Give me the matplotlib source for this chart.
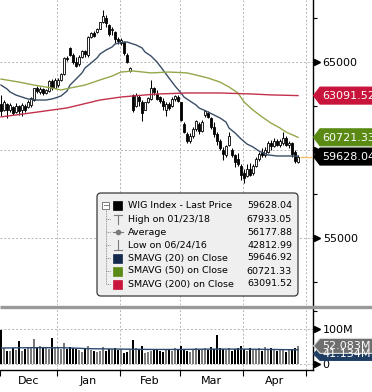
import matplotlib
matplotlib.use("Agg")
import matplotlib.pyplot as plt
import numpy as np
from matplotlib.patches import FancyBboxPatch, Polygon, Rectangle
from matplotlib.transforms import blended_transform_factory, offset_copy

# daily candles (trading days, Dec 2017 - Apr 2018)
opens = [62600, 62250, 62600, 62300, 62450, 62150, 62500, 62250, 62500, 62450,
         62550, 62850, 63550, 63300, 63450, 63250, 63350, 63900, 63550, 63700,
         64000, 64300, 65250, 65800, 65400, 65000, 64900, 65300, 65600, 65400,
         66400, 66650, 66700, 66900, 67250, 67500, 67100, 66800, 66700, 66300,
         66100, 66150, 65400, 64500, 63100, 62500, 63000, 62700, 62300, 62700,
         62900, 63500, 63200, 63000, 62800, 62300, 62600, 62500, 62900, 63000,
         62700, 61500, 60900, 60500, 60800, 61200, 61500, 61100, 62000, 62100,
         61800, 61300, 60900, 60500, 60000, 59700, 60300, 60000, 59700, 59500,
         59100, 58700, 58500, 58900, 58700, 59100, 59500, 59900, 59700, 59900,
         60400, 60200, 60500, 60300, 60400, 60700, 60300, 60400, 59900, 59300]
highs = [63100, 62850, 62650, 62670, 62500, 62670, 62550, 62650, 62600, 62850,
         63010, 63550, 63640, 63580, 63500, 63450, 63980, 64030, 64090, 64090,
         64350, 65300, 65350, 65850, 65500, 65300, 65400, 65700, 65700, 66450,
         66700, 66750, 66950, 67300, 67933, 67650, 67150, 67000, 66750, 66400,
         66350, 66200, 65500, 64700, 63200, 63240, 63100, 62850, 62750, 63000,
         63980, 63600, 63400, 63050, 62950, 62700, 62700, 63000, 63120, 63100,
         62700, 61600, 61000, 60950, 61300, 61700, 61600, 61700, 62270, 62200,
         61900, 61600, 61000, 60600, 60170, 60300, 61000, 60100, 59800, 59830,
         59200, 58900, 59200, 59260, 59200, 59600, 59900, 60100, 60170, 60500,
         60570, 60680, 60600, 60650, 61020, 60800, 60500, 60450, 60000, 59720]
lows = [61950, 62200, 61820, 62150, 61990, 62100, 62000, 61950, 62150, 62400,
        62450, 62800, 63250, 63180, 63150, 63180, 63300, 63400, 63500, 63600,
        63900, 64250, 65050, 65350, 64900, 64700, 64800, 65250, 65300, 65300,
        66350, 66400, 66650, 66850, 67200, 67000, 66500, 66550, 66100, 66000,
        65950, 65400, 64950, 64430, 62150, 62440, 62500, 61650, 62250, 62650,
        62850, 63100, 62840, 62670, 62270, 61930, 62250, 62450, 62800, 62700,
        61650, 60970, 60400, 60400, 60700, 61100, 60900, 61000, 61900, 61800,
        61200, 60740, 60300, 60000, 59430, 59600, 60200, 59600, 59030, 59100,
        58300, 58130, 58470, 58500, 58600, 59030, 59400, 59600, 59600, 59830,
        60000, 60150, 60200, 60170, 60300, 60200, 60100, 59600, 59260, 59260]
closes = [62200, 62700, 62300, 62550, 62100, 62500, 62200, 62550, 62300, 62750,
          62950, 63500, 63350, 63450, 63250, 63400, 63900, 63500, 63950, 64000,
          64300, 65250, 65150, 65400, 65000, 64800, 65300, 65600, 65450, 66400,
          66650, 66500, 66900, 67250, 67600, 67200, 66600, 66900, 66300, 66200,
          66250, 65500, 65000, 64650, 62300, 63100, 62800, 62100, 62700, 62950,
          63500, 63300, 62900, 62800, 62500, 62600, 62400, 62900, 63050, 62800,
          61700, 61000, 60500, 60800, 61200, 61650, 61100, 61600, 62200, 61900,
          61300, 60900, 60500, 60100, 59800, 60200, 60800, 59700, 59300, 59200,
          58600, 58400, 58900, 58600, 59100, 59500, 59800, 59700, 60000, 60400,
          60200, 60500, 60300, 60500, 60700, 60300, 60400, 59800, 59400, 59628.04]
volumes = [98, 46, 39, 37, 46, 41, 66, 37, 43, 45, 47, 71, 48, 51, 50, 48, 43, 74, 48, 46,
           43, 60, 43, 49, 45, 43, 41, 34, 45, 53, 41, 38, 36, 38, 50, 38, 43, 43, 45, 41,
           43, 33, 36, 41, 69, 45, 43, 53, 31, 35, 38, 41, 43, 39, 36, 41, 43, 38, 45, 41,
           53, 43, 39, 36, 41, 45, 40, 43, 47, 41, 48, 43, 83, 45, 43, 41, 46, 39, 43, 47,
           53, 43, 38, 45, 41, 43, 47, 39, 48, 43, 45, 41, 38, 43, 40, 36, 41, 43, 47, 52.083]

# moving averages
sma20_days = [0, 2, 3, 5, 7, 9, 12, 15, 17, 18, 20, 22, 23, 25, 27, 28, 30, 32, 33, 35,
              37, 38, 40, 42, 43, 45, 47, 48, 50, 52, 54, 56, 58, 60, 61, 63, 65, 66, 69,
              71, 73, 75, 76, 78, 80, 82, 84, 86, 89, 92, 95, 97, 99]
sma20 = [63690, 63470, 63300, 63120, 63010, 62900, 62840, 62840, 62900, 62950, 63070, 63350,
         63690, 64030, 64380, 64660, 64940, 65230, 65450, 65680, 65850, 66020, 66110, 66140,
         66080, 65970, 65800, 65570, 65340, 65000, 64550, 64090, 63640, 63240, 63010, 62780,
         62560, 62390, 62160, 61990, 61820, 61590, 61250, 60970, 60630, 60340, 60170, 59940,
         59720, 59660, 59660, 59660, 59646.92]
sma50_days = [0, 6, 11, 17, 20, 23, 28, 33, 37, 40, 44, 50, 56, 62, 65, 69, 73, 76, 79, 81,
              84, 87, 90, 93, 95, 99]
sma50 = [64030, 63860, 63690, 63520, 63410, 63520, 63690, 63980, 64200, 64430, 64490, 64380,
         64430, 64380, 64260, 64090, 63860, 63580, 63240, 62730, 62270, 61880, 61530, 61250,
         61020, 60721.33]
sma200_days = [0, 11, 22, 33, 40, 44, 52, 62, 73, 84, 90, 99]
sma200 = [61880, 62130, 62390, 62840, 63010, 63070, 63180, 63240, 63240, 63180, 63130, 63091.52]
vol_sma_days = [0, 10, 20, 30, 40, 50, 60, 70, 80, 90, 99]
vol_sma = [46, 47, 47, 44, 43, 42, 42, 43, 43, 42, 41]

months = ["Dec", "Jan", "Feb", "Mar", "Apr"]
month_starts = [0, 19, 40, 60, 81, 102]

legend_labels = ["WIG Index - Last Price", "High on 01/23/18", "Average", "Low on 06/24/16",
                 "SMAVG (20) on Close", "SMAVG (50) on Close", "SMAVG (200) on Close"]
legend_values = ["59628.04", "67933.05", "56177.88", "42812.99", "59646.92", "60721.33", "63091.52"]

C20, C50, C200 = "#3b4d66", "#93a84a", "#c3304c"
TAG20, TAG50, TAG200 = "#13294b", "#5a8a14", "#c8143a"
GRID = dict(color="#b4b4b4", linestyle=(0, (2, 2)), linewidth=0.7)

plt.rcParams["font.family"] = ["DejaVu Sans"]
W, H = 372, 392
fig = plt.figure(figsize=(W / 100, H / 100), dpi=100)
ax = fig.add_axes([0, 1 - 305 / H, 313 / W, 305 / H])
axv = fig.add_axes([0, 1 - 370 / H, 313 / W, 62 / H])

days = np.arange(len(closes))
o, h, l, c = map(np.array, (opens, highs, lows, closes))
up = c >= o
# 3 px per trading day, day centres on pixel edges so 2 px bars stay crisp
xmin = -1 / 3
xmax = xmin + 313 / 3
bounds = np.array(month_starts) - 0.5

# candles
ax.vlines(days, l, h, color="black", lw=0.75, zorder=2)
body = np.maximum(np.abs(c - o), 25)
ax.bar(days, body, bottom=np.minimum(o, c), width=0.72,
       color=np.where(up, "white", "black"), edgecolor="black", lw=0.6, zorder=3)
ax.plot(sma20_days, sma20, color=C20, lw=1.0, zorder=4)
ax.plot(sma50_days, sma50, color=C50, lw=1.0, zorder=4)
ax.plot(sma200_days, sma200, color=C200, lw=1.0, zorder=4)
ax.hlines(closes[-1], days[-1] + 0.5, xmax, color="#f0c46a", lw=1.0, zorder=4)

ax.set_xlim(xmin, xmax)
ax.set_ylim(51193, 68523)
for b in bounds[1:]:
    ax.axvline(b, **GRID, zorder=1)
for v in [55000, 60000, 65000]:
    ax.axhline(v, **GRID, zorder=1)
for s in ["left", "top", "bottom"]:
    ax.spines[s].set_visible(False)
ax.spines["right"].set_linewidth(1.0)
ax.set_xticks([])
ax.yaxis.tick_right()
ax.set_yticks([55000, 60000, 65000])
ax.set_yticklabels(["55000", "", "65000"], fontsize=8)
ax.set_yticks([52500, 57500, 62500, 67500], minor=True)
ax.tick_params(axis="y", which="major", length=0, pad=7)
ax.tick_params(axis="y", which="minor", length=3, width=0.8, direction="out")
tr = offset_copy(blended_transform_factory(ax.transAxes, ax.transData), fig, x=4, y=0, units="dots")
ax.plot([1, 1, 1], [55000, 60000, 65000], ls="none", marker=">", ms=5, color="black",
        transform=tr, clip_on=False)

# volume
axv.bar(days, volumes, width=2 / 3, color=np.where(up, "#7a7a7a", "black"), lw=0, zorder=3)
axv.plot(vol_sma_days, vol_sma, color="#2c4a6e", lw=1.0, zorder=4)
axv.set_xlim(xmin, xmax)
axv.set_ylim(-16, 159)
for b in bounds[1:]:
    axv.axvline(b, **GRID, zorder=1)
for v in [0, 100]:
    axv.axhline(v, **GRID, zorder=1)
axv.spines["left"].set_visible(False)
axv.spines["top"].set_visible(False)
axv.spines["right"].set_linewidth(1.0)
axv.spines["bottom"].set_linewidth(1.0)
axv.yaxis.tick_right()
axv.set_yticks([0, 100])
axv.set_yticklabels(["0", "100M"], fontsize=8)
axv.set_yticks([50, 150], minor=True)
axv.tick_params(axis="y", which="major", length=0, pad=7)
axv.tick_params(axis="y", which="minor", length=3, width=0.8)
trv = offset_copy(blended_transform_factory(axv.transAxes, axv.transData), fig, x=4, y=0, units="dots")
axv.plot([1, 1], [0, 100], ls="none", marker=">", ms=5, color="black", transform=trv, clip_on=False)
axv.set_xticks(bounds)
axv.set_xticklabels([])
axv.set_xticks((bounds[:-1] + bounds[1:]) / 2, minor=True)
axv.set_xticklabels(months, minor=True, fontsize=8)
axv.tick_params(axis="x", which="major", length=4, width=0.8)
axv.tick_params(axis="x", which="minor", length=0, pad=4)

# overlay in pixel coordinates
ov = fig.add_axes([0, 0, 1, 1], zorder=10)
ov.set_xlim(0, W)
ov.set_ylim(H, 0)
ov.axis("off")
ov.patch.set_visible(False)
ov.plot([0, W], [306.5, 306.5], color="#9a9a9a", lw=2.4, solid_capstyle="butt")


def px(a, v):
    return H - a.transData.transform((0, v))[1]


def tag(y, text, fc, hgt=17, ec=None):
    pts = [(313.5, y), (320, y - hgt / 2), (W + 5, y - hgt / 2), (W + 5, y + hgt / 2), (320, y + hgt / 2)]
    ov.add_patch(Polygon(pts, closed=True, fc=fc, ec=ec or fc, lw=0.8, zorder=5))
    ov.text(322.5, y + 0.5, text, color="white", fontsize=8, va="center", ha="left", zorder=6)


tag(px(ax, sma200[-1]), "63091.52", TAG200)
tag(px(ax, sma50[-1]), "60721.33", TAG50)
tag(px(ax, closes[-1]), "59628.04", "black")
yv = px(axv, volumes[-1])
tag(yv + 8, "41.134M", "#1f3d63", hgt=13)
tag(yv, "52.083M", "#6e6e6e", hgt=15, ec="#dddddd")

# legend box
ov.add_patch(FancyBboxPatch((97, 193), 201, 103, boxstyle="round,pad=0,rounding_size=4",
                            fc="#efefef", ec="#3a3a3a", lw=0.9, zorder=7))
rows = [205, 219, 232, 245, 258, 271, 284]
gray = "#7a7a7a"
ov.add_patch(Rectangle((102, 201.5), 7, 7, fc="white", ec=gray, lw=0.7, zorder=8))
ov.plot([103.5, 107.5], [205, 205], color=gray, lw=0.7, zorder=9)
ov.plot([105.5, 105.5], [209, rows[-1]], color=gray, lw=0.6, ls=(0, (1, 1)), zorder=8)
for y in rows[1:]:
    ov.plot([105.5, 111], [y, y], color=gray, lw=0.6, ls=(0, (1, 1)), zorder=8)
sq = ["black", None, None, None, TAG20, TAG50, TAG200]
for y, col in zip(rows, sq):
    if col:
        ov.add_patch(Rectangle((113, y - 4.5), 9, 9, fc=col, ec=col, lw=0.5, zorder=8))
ov.plot([114, 122], [214.5, 214.5], color=gray, lw=0.8, zorder=8)
ov.plot([118, 118], [214.5, 224], color=gray, lw=0.8, zorder=8)
ov.plot([113, 123], [232, 232], color=gray, lw=0.8, zorder=8)
ov.plot([118], [232], marker="o", ms=3, color=gray, zorder=9)
ov.plot([118, 118], [240, 249.5], color=gray, lw=0.8, zorder=8)
ov.plot([114, 122], [249.5, 249.5], color=gray, lw=0.8, zorder=8)
for y, lab, val in zip(rows, legend_labels, legend_values):
    ov.text(128, y, lab, fontsize=6.8, va="center", ha="left", zorder=9)
    ov.text(292, y, val, fontsize=6.8, va="center", ha="right", zorder=9)

fig.savefig("out.png", dpi=100)
